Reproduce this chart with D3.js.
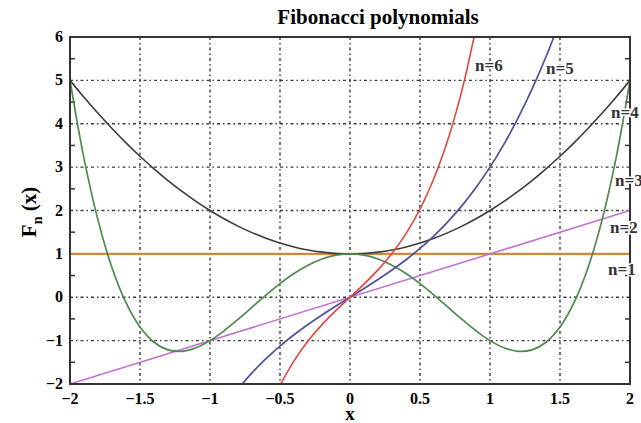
<!DOCTYPE html>
<html><head><meta charset="utf-8">
<script src="https://cdn.jsdelivr.net/npm/d3@7"></script>
<style>
html,body{margin:0;padding:0;background:#fff;}
text{font-family:"Liberation Serif","DejaVu Serif",serif;font-weight:bold;}
</style></head>
<body><svg id="c" width="641" height="423"></svg>
<script>
// ---- data ----
const xsFull = [-2,-1.9,-1.8,-1.7,-1.6,-1.5,-1.4,-1.3,-1.2,-1.1,-1,-0.9,-0.8,-0.7,-0.6,-0.5,-0.4,-0.3,-0.2,-0.1,0,0.1,0.2,0.3,0.4,0.5,0.6,0.7,0.8,0.9,1,1.1,1.2,1.3,1.4,1.5,1.6,1.7,1.8,1.9,2];
const n1Values = [1,1];
const n1X = [-2,2];
const n2Values = [-2,2];
const n2X = [-2,2];
const blackValues = [5,4.61,4.24,3.89,3.56,3.25,2.96,2.69,2.44,2.21,2,1.81,1.64,1.49,1.36,1.25,1.16,1.09,1.04,1.01,1,1.01,1.04,1.09,1.16,1.25,1.36,1.49,1.64,1.81,2,2.21,2.44,2.69,2.96,3.25,3.56,3.89,4.24,4.61,5];
const greenValues = [5,3.202,1.778,0.682,-0.126,-0.688,-1.038,-1.214,-1.246,-1.166,-1,-0.774,-0.510,-0.230,0.050,0.313,0.546,0.738,0.882,0.970,1,0.970,0.882,0.738,0.546,0.313,0.050,-0.230,-0.510,-0.774,-1,-1.166,-1.246,-1.214,-1.038,-0.688,-0.126,0.682,1.778,3.202,5];
const blueX = [-0.8,-0.7,-0.6,-0.5,-0.4,-0.3,-0.2,-0.1,0,0.1,0.2,0.3,0.4,0.5,0.6,0.7,0.8,0.9,1,1.1,1.2,1.3,1.4,1.5];
const blueValues = [-2.112,-1.743,-1.416,-1.125,-0.864,-0.627,-0.408,-0.201,0,0.201,0.408,0.627,0.864,1.125,1.416,1.743,2.112,2.529,3,3.531,4.128,4.797,5.544,6.375];
const redX = [-0.5,-0.4,-0.3,-0.2,-0.1,0,0.1,0.2,0.3,0.4,0.5,0.6,0.7,0.8,0.9];
const redValues = [-2.031,-1.466,-1.010,-0.632,-0.304,0,0.304,0.632,1.010,1.466,2.031,2.742,3.640,4.776,6.206];
const xTicks = [-2,-1.5,-1,-0.5,0,0.5,1,1.5,2];
const xTickLabels = ["\u22122","\u22121.5","\u22121","\u22120.5","0","0.5","1","1.5","2"];
const yTicks = [-2,-1,0,1,2,3,4,5,6];
const yTickLabels = ["\u22122","\u22121","0","1","2","3","4","5","6"];
const seriesLabels = ["n=6","n=5","n=4","n=3","n=2","n=1"];

// ---- layout ----
const W=641,H=423, L=70,R=630,T=37,B=384;
const svg = d3.select("#c");
const x = d3.scaleLinear().domain([-2,2]).range([L,R]);
const y = d3.scaleLinear().domain([-2,6]).range([B,T]);

svg.append("defs").append("clipPath").attr("id","clip")
  .append("rect").attr("x",L).attr("y",T).attr("width",R-L).attr("height",B-T);

// grid
const grid = svg.append("g").attr("stroke","#3a3a3a").attr("stroke-width",1.4).attr("stroke-dasharray","3,3,1.5,3");
grid.selectAll(".gx").data(xTicks.slice(1,-1)).join("line")
  .attr("x1",d=>x(d)).attr("x2",d=>x(d)).attr("y1",T).attr("y2",B);
grid.selectAll(".gy").data(yTicks.slice(1,-1)).join("line")
  .attr("x1",L).attr("x2",R).attr("y1",d=>y(d)).attr("y2",d=>y(d));

// minor ticks on y
const minorY = d3.range(-1.5,6,1);
const tk = svg.append("g").attr("stroke","#333").attr("stroke-width",1.5);
tk.selectAll(".ml").data(minorY).join("line").attr("x1",L).attr("x2",L+5).attr("y1",d=>y(d)).attr("y2",d=>y(d));
tk.selectAll(".mr").data(minorY).join("line").attr("x1",R).attr("x2",R-5).attr("y1",d=>y(d)).attr("y2",d=>y(d));

// curves
const plot = svg.append("g").attr("clip-path","url(#clip)").attr("fill","none");
const line = d3.line().curve(d3.curveCatmullRom).x(d=>x(d[0])).y(d=>y(d[1]));
const zip=(a,b)=>a.map((v,i)=>[v,b[i]]);
const curves = [
  {pts:zip(n1X,n1Values), c:"#d4863c", w:2.4},
  {pts:zip(n2X,n2Values), c:"#c271d2", w:1.6},
  {pts:zip(xsFull,blackValues), c:"#3c3c3c", w:1.6},
  {pts:zip(xsFull,greenValues), c:"#4d8a4d", w:1.7},
  {pts:zip(blueX,blueValues), c:"#4f4f9e", w:1.7},
  {pts:zip(redX,redValues), c:"#e2463c", w:1.6}
];
plot.selectAll("path").data(curves).join("path")
  .attr("d",d=>line(d.pts)).attr("stroke",d=>d.c).attr("stroke-width",d=>d.w);

// frame
svg.append("rect").attr("x",L).attr("y",T).attr("width",R-L).attr("height",B-T)
  .attr("fill","none").attr("stroke","#333").attr("stroke-width",2);

// tick labels
svg.append("g").selectAll("text").data(xTicks).join("text")
  .attr("x",d=>x(d)).attr("y",B+20).attr("text-anchor","middle").attr("font-size",16)
  .text((d,i)=>xTickLabels[i]);
svg.append("g").selectAll("text").data(yTicks).join("text")
  .attr("x",L-7).attr("y",d=>y(d)+5).attr("text-anchor","end").attr("font-size",16)
  .text((d,i)=>yTickLabels[i]);

// series labels
const labelPos = [[475,71],[546,74],[611,118],[615,186],[610,233],[608,275]];
svg.append("g").selectAll("text").data(seriesLabels).join("text")
  .attr("x",(d,i)=>labelPos[i][0]).attr("y",(d,i)=>labelPos[i][1])
  .attr("font-size",17).attr("fill","#333")
  .attr("stroke","#fff").attr("stroke-width",3).attr("paint-order","stroke")
  .text(d=>d);

// title & axis labels
svg.append("text").attr("x",378).attr("y",24).attr("text-anchor","middle").attr("font-size",21).text("Fibonacci polynomials");
svg.append("text").attr("x",350).attr("y",420).attr("text-anchor","middle").attr("font-size",19).text("x");
const yl = svg.append("text").attr("transform","translate(36,212) rotate(-90)").attr("text-anchor","middle").attr("font-size",21);
yl.append("tspan").text("F");
yl.append("tspan").attr("font-size",14).attr("dy",6).text("n");
yl.append("tspan").attr("dy",-6).text(" (x)");
</script></body></html>
